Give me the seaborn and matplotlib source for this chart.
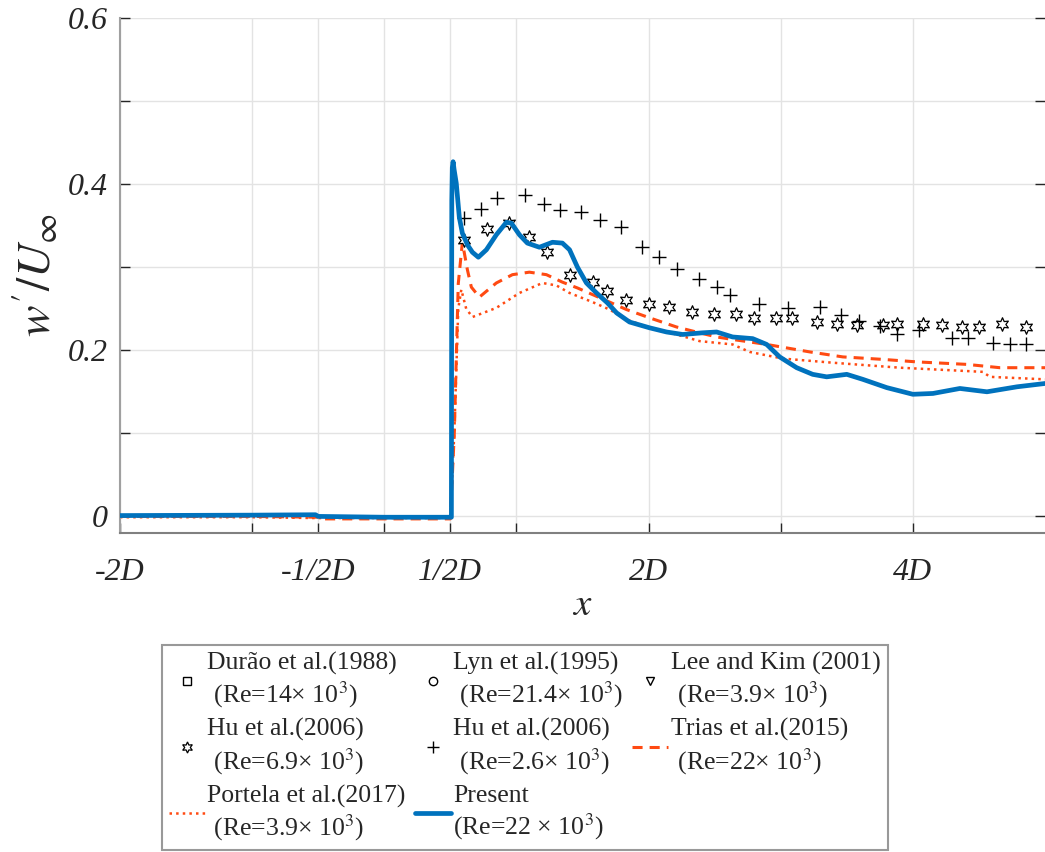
import numpy as np
import seaborn as sns
from matplotlib import pyplot as plt
from matplotlib.lines import Line2D

# x positions are in cylinder diameters D, values are w'/U_inf
present_x = [-2.0, -1.0, -0.52, -0.5, 0.0, 0.508, 0.511, 0.515, 0.521, 0.528, 0.545, 0.568,
             0.591, 0.629, 0.667, 0.712, 0.773, 0.848, 0.924, 0.962, 1.023, 1.083, 1.174,
             1.273, 1.348, 1.402, 1.462, 1.53, 1.606, 1.689, 1.758, 1.856, 2.008, 2.136,
             2.258, 2.409, 2.515, 2.636, 2.788, 2.894, 2.992, 3.121, 3.242, 3.348, 3.5,
             3.621, 3.803, 4.0, 4.152, 4.356, 4.561, 4.788, 5.0]
present_y = [0.001, 0.0015, 0.002, 0.0, -0.001, -0.001, 0.38, 0.42, 0.427, 0.418, 0.401, 0.360,
             0.341, 0.327, 0.318, 0.312, 0.321, 0.339, 0.354, 0.353, 0.339, 0.329, 0.324,
             0.330, 0.329, 0.321, 0.300, 0.281, 0.269, 0.257, 0.245, 0.234, 0.227, 0.222,
             0.219, 0.221, 0.222, 0.216, 0.214, 0.207, 0.192, 0.179, 0.171, 0.168, 0.171,
             0.165, 0.155, 0.147, 0.148, 0.154, 0.150, 0.156, 0.160]

trias_x = [-2.0, -1.0, -0.5, -0.45, 0.0, 0.5, 0.53, 0.56, 0.591, 0.629, 0.659, 0.72, 0.848,
           0.97, 1.098, 1.227, 1.348, 1.462, 1.705, 1.833, 2.008, 2.212, 2.386, 2.515, 2.636,
           2.894, 3.22, 3.47, 3.773, 4.03, 4.409, 4.659, 5.0]
trias_y = [0.0, 0.0, -0.001, -0.003, -0.003, -0.003, 0.10, 0.28, 0.33, 0.297, 0.276, 0.264,
           0.281, 0.291, 0.294, 0.291, 0.282, 0.275, 0.258, 0.249, 0.239, 0.228, 0.221, 0.216,
           0.213, 0.207, 0.198, 0.192, 0.189, 0.186, 0.183, 0.179, 0.179]

portela_x = [-2.0, -1.0, -0.5, 0.0, 0.5, 0.53, 0.56, 0.583, 0.62, 0.667, 0.848, 1.023, 1.197,
             1.303, 1.402, 1.576, 1.705, 1.833, 2.008, 2.212, 2.386, 2.636, 2.765, 3.015,
             3.394, 3.902, 4.53, 4.583, 5.0]
portela_y = [-0.001, -0.001, -0.002, -0.002, -0.002, 0.10, 0.25, 0.273, 0.25, 0.240, 0.251,
             0.269, 0.281, 0.278, 0.269, 0.258, 0.249, 0.237, 0.227, 0.219, 0.211, 0.207,
             0.198, 0.190, 0.185, 0.179, 0.174, 0.168, 0.165]

hu69_x = [0.606, 0.780, 0.947, 1.098, 1.235, 1.402, 1.583, 1.689, 1.833, 2.0, 2.152, 2.326,
          2.492, 2.659, 2.795, 2.962, 3.083, 3.273, 3.424, 3.576, 3.773, 3.879, 4.076, 4.22,
          4.371, 4.5, 4.674, 4.856]
hu69_y = [0.333, 0.346, 0.353, 0.336, 0.318, 0.29, 0.282, 0.271, 0.261, 0.256, 0.252, 0.246,
          0.244, 0.244, 0.239, 0.239, 0.239, 0.234, 0.232, 0.231, 0.231, 0.232, 0.232, 0.231,
          0.228, 0.228, 0.232, 0.228]

hu26_x = [0.606, 0.735, 0.856, 1.068, 1.212, 1.333, 1.485, 1.636, 1.795, 1.947, 2.076, 2.212,
          2.379, 2.515, 2.614, 2.833, 3.053, 3.295, 3.455, 3.591, 3.75, 3.879, 4.045, 4.295,
          4.417, 4.606, 4.735, 4.856]
hu26_y = [0.359, 0.37, 0.383, 0.387, 0.376, 0.369, 0.366, 0.357, 0.348, 0.324, 0.312, 0.298,
          0.286, 0.276, 0.267, 0.256, 0.251, 0.252, 0.243, 0.235, 0.229, 0.22, 0.224, 0.215,
          0.215, 0.209, 0.208, 0.207]

# no points of these inside the plotted range
durao_x, durao_y = [], []
lyn_x, lyn_y = [], []
lee_x, lee_y = [], []

xticks = [-2, -1, -0.5, 0, 0.5, 1, 2, 3, 4]
xticklabels = ["-2D", "", "-1/2D", "", "1/2D", "", "2D", "", "4D"]
yticks = [0, 0.1, 0.2, 0.3, 0.4, 0.5, 0.6]
yticklabels = ["0", "", "0.2", "", "0.4", "", "0.6"]

labels = {
    "durao": "Durão et al.(1988)\n (Re=14× 10$^3$)",
    "lyn": "Lyn et al.(1995)\n (Re=21.4× 10$^3$)",
    "lee": "Lee and Kim (2001)\n (Re=3.9× 10$^3$)",
    "hu69": "Hu et al.(2006)\n (Re=6.9× 10$^3$)",
    "hu26": "Hu et al.(2006)\n (Re=2.6× 10$^3$)",
    "trias": "Trias et al.(2015)\n (Re=22× 10$^3$)",
    "portela": "Portela et al.(2017)\n (Re=3.9× 10$^3$)",
    "present": "Present\n(Re=22 × 10$^3$)",
}

blue = "#0072BD"
red = "#FF4A12"
hexagram = (6, 1, 0)
dash = (0, (3.3, 2.3))

sns.set_theme(style="white")
plt.rcParams["font.family"] = ["Liberation Serif", "DejaVu Serif"]
plt.rcParams["mathtext.fontset"] = "stix"

fig = plt.figure(figsize=(10.45, 8.52), dpi=100)
ax = fig.add_axes([0.1148, 0.3744, 0.8852, 0.6045])

ax.plot(durao_x, durao_y, ls="none", marker="s", mfc="none", mec="black", ms=6)
ax.plot(lyn_x, lyn_y, ls="none", marker="o", mfc="none", mec="black", ms=6)
ax.plot(lee_x, lee_y, ls="none", marker="v", mfc="none", mec="black", ms=6)

sns.lineplot(x=portela_x, y=portela_y, ax=ax, color=red, lw=1.8, ls=":",
             estimator=None, sort=False)
sns.lineplot(x=trias_x, y=trias_y, ax=ax, color=red, lw=2.2, ls=dash,
             estimator=None, sort=False)
sns.scatterplot(x=hu69_x, y=hu69_y, ax=ax, marker=hexagram, s=95,
                facecolor="white", edgecolor="black", linewidth=0.9, zorder=3)
sns.scatterplot(x=hu26_x, y=hu26_y, ax=ax, marker="+", s=95, color="black",
                linewidth=1.0, zorder=3)
sns.lineplot(x=present_x, y=present_y, ax=ax, color=blue, lw=3.4,
             estimator=None, sort=False, zorder=4, solid_joinstyle="round")

ax.set_xlim(-2, 5)
ax.set_ylim(-0.02, 0.6)
ax.set_xticks(xticks)
ax.set_xticklabels(xticklabels, fontsize=23, fontstyle="italic", color="#262626")
ax.set_yticks(yticks)
ax.set_yticklabels(yticklabels, fontsize=23, fontstyle="italic", color="#262626")
ax.tick_params(direction="in", length=7, width=1, color="#262626",
               right=True, left=True, bottom=True)
ax.tick_params(axis="x", pad=18)
ax.tick_params(axis="y", pad=9)
ax.grid(True, color="#e3e3e3", lw=1)

for side in ["top", "right"]:
    ax.spines[side].set_visible(False)
ax.spines["left"].set_color("#a0a0a0")
ax.spines["bottom"].set_color("#808080")
ax.spines["left"].set_linewidth(1.5)
ax.spines["bottom"].set_linewidth(1.5)

ax.set_xlabel("$x$", fontsize=28, labelpad=0)
ax.set_ylabel("$w'/U_\\infty$", fontsize=34, labelpad=4)

handles = [
    Line2D([], [], ls="none", marker="s", mfc="none", mec="black", ms=6),
    Line2D([], [], ls="none", marker=hexagram, mfc="white", mec="black", ms=8, mew=0.9),
    Line2D([], [], color=red, lw=1.8, ls=":"),
    Line2D([], [], ls="none", marker="o", mfc="none", mec="black", ms=6),
    Line2D([], [], ls="none", marker="+", color="black", ms=8, mew=1.0),
    Line2D([], [], color=blue, lw=3.4),
    Line2D([], [], ls="none", marker="v", mfc="none", mec="black", ms=6),
    Line2D([], [], color=red, lw=2.2, ls=dash),
]
names = [labels[k] for k in ["durao", "hu69", "portela", "lyn", "hu26",
                             "present", "lee", "trias"]]

leg = fig.legend(handles, names, ncol=3, loc="upper left",
                 bbox_to_anchor=(0.155, 0.243), borderaxespad=0, fontsize=18.5,
                 frameon=True, fancybox=False, edgecolor="#808080",
                 handlelength=1.4, handletextpad=0.1, columnspacing=0.35,
                 labelspacing=0.32, borderpad=0.27)
leg.get_frame().set_linewidth(1.5)

plt.savefig("out.png", dpi=100)
